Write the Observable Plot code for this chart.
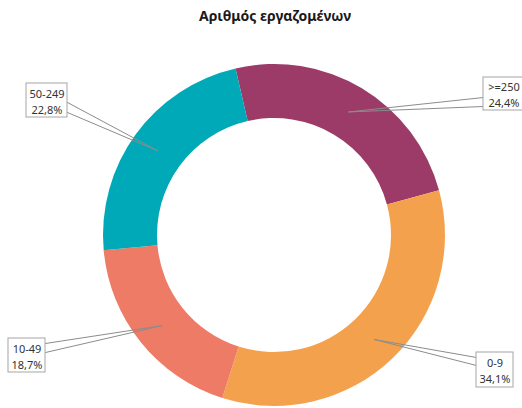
<!DOCTYPE html>
<html><head><meta charset="utf-8">
<script src="https://cdn.jsdelivr.net/npm/d3@7"></script>
<script src="https://cdn.jsdelivr.net/npm/@observablehq/plot@0.6"></script>
<style>
body{margin:0;background:#fff;font-family:"Noto Sans","Open Sans",sans-serif;}
#title{height:32px;line-height:32px;font-size:14px;font-weight:bold;text-align:center;padding-left:28px;width:494px;color:#1a1a1a;}
#chart svg{overflow:visible;}
</style></head><body>
<div id="title">Αριθμός εργαζομένων</div>
<div id="chart"></div>
<script>
// Data (clockwise from the start angle)
const categories = [">=250", "0-9", "10-49", "50-249"];
const shares = [24.4, 34.1, 18.7, 22.8];
const colors = ["#9c3a68", "#f4a14d", "#ee7b66", "#00a9b7"];

// Layout (pixels relative to the donut centre)
const startDeg = -13;
const outerR = 171, innerR = 117;
const boxes = [
  {x1: 209, x2: 250, y1: -158, y2: -125, bx: 209, by1: -138, by2: -129},
  {x1: 202, x2: 239, y1: 117, y2: 152, bx: 202, by1: 122, by2: 130},
  {x1: -266, x2: -229, y1: 103, y2: 137, bx: -229, by1: 108, by2: 117},
  {x1: -248, x2: -207, y1: -152, y2: -118, bx: -207, by1: -133, by2: -123}
];

const start = startDeg * Math.PI / 180;
const arcs = d3.pie().sort(null).startAngle(start).endAngle(start + 2 * Math.PI)(shares);
const arcGen = d3.arc().innerRadius(innerR).outerRadius(outerR);

const fmt = v => v.toFixed(1).replace(".", ",") + "%";
const labelRows = categories.map((c, i) => ({...boxes[i], cat: c, text: c + "\n" + fmt(shares[i])}));
const linePts = [];
categories.forEach((c, i) => {
  const [tx, ty] = arcGen.centroid(arcs[i]);
  const b = boxes[i];
  linePts.push({cat: c, x: b.bx, y: b.by1});
  linePts.push({cat: c, x: tx, y: ty});
  linePts.push({cat: c, x: b.bx, y: b.by2});
});

function donut(index, scales) {
  const cx = scales.x(0), cy = scales.y(0), k = scales.x(1) - scales.x(0);
  const arc = d3.arc().innerRadius(innerR * k).outerRadius(outerR * k);
  const g = d3.create("svg:g").attr("transform", `translate(${cx},${cy})`);
  g.selectAll("path").data(arcs).join("path")
    .attr("d", arc).attr("fill", (d, i) => colors[i]);
  return g.node();
}

const H = 376;
const plot = Plot.plot({
  width: 522, height: H, margin: 0,
  x: {domain: [-274, 248], range: [0, 522], axis: null},
  y: {domain: [-203, 173], range: [0, H], axis: null},
  style: {fontFamily: "'Noto Sans','Open Sans',sans-serif", fontSize: "11px", background: "white"},
  marks: [
    donut,
    Plot.line(linePts, {x: "x", y: "y", z: "cat", stroke: "#8c8c8c", strokeWidth: 1}),
    Plot.rect(labelRows, {x1: "x1", x2: "x2", y1: "y1", y2: "y2", fill: "white", stroke: "#a6a6a6", strokeWidth: 1}),
    Plot.text(labelRows, {x: d => (d.x1 + d.x2) / 2, y: d => (d.y1 + d.y2) / 2, text: "text", lineHeight: 1.45, fill: "#333", fontSize: 11})
  ]
});
document.getElementById("chart").appendChild(plot);
</script>
</body></html>
